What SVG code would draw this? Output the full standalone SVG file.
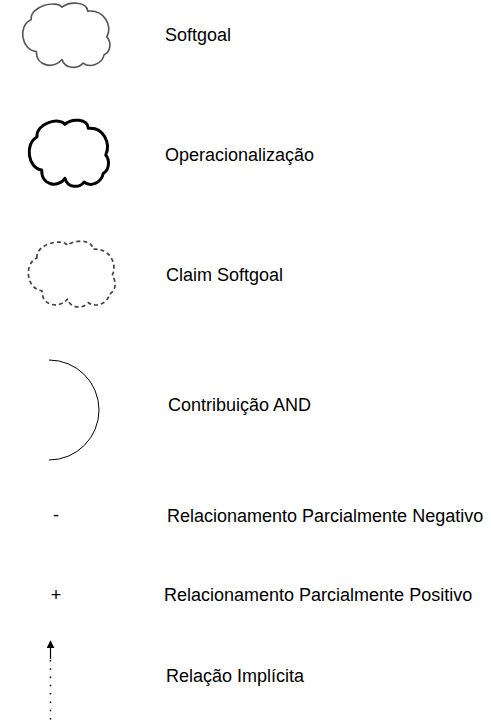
<svg xmlns="http://www.w3.org/2000/svg" width="491" height="723" viewBox="0 0 491 723">
<style>
  .lbl { font-family: "Liberation Sans", Arial, sans-serif; font-size: 18px; fill: #000; }
  .sym { font-family: "Liberation Sans", Arial, sans-serif; font-size: 18px; fill: #000; text-anchor: middle; }
  .cloud { fill: #fff; stroke-linejoin: round; }
</style>
<defs>
  <marker id="arr" viewBox="0 0 10 10" refX="9" refY="5" markerWidth="8" markerHeight="8" markerUnits="userSpaceOnUse" orient="auto">
    <path d="M0,0 L10,5 L0,10 Z" fill="#000"/>
  </marker>
</defs>
<rect width="491" height="723" fill="#fff"/>

<g id="softgoal">
  <path class="cloud" stroke="#555" stroke-width="1.6" d="M31.2,19.5 C29.8,6.25 56.2,-0.25 62,7.2 C69.4,1.05 87,1.7 87.7,11.1 C104.6,9.5 112.5,25.75 106.8,36.9 C111.6,42 110.8,51.75 104.2,54.7 C102,64.75 89.6,68 83,63.1 C78.2,69.3 65,69.3 62,59.6 C54.4,69.3 36,66.7 36.4,51.5 C21,49.8 17.5,25.75 31.2,19.5 Z"/>
  <text class="lbl" x="165" y="41">Softgoal</text>
</g>

<g id="operacionalizacao">
  <path class="cloud" stroke="#000" stroke-width="3" d="M37,137 C35.7,123.35 59.7,116.65 65,124.3 C71.7,118 87.7,118.7 88.3,128.3 C103.7,126.7 110.9,143.5 105.7,155 C110.1,160.2 109.3,170.25 103.3,173.3 C101.3,183.65 90.1,187 84,182 C79.7,188.3 67.7,188.3 65,178.3 C58.1,188.3 41.3,185.7 41.7,170 C27.7,168.2 24.5,143.5 37,137 Z"/>
  <text class="lbl" x="165" y="160.5">Operacionalização</text>
</g>

<g id="claim-softgoal">
  <path class="cloud" stroke="#444" stroke-width="1.7" stroke-dasharray="4 3" d="M36.9,257.9 C35.5,244.3 61.7,237.7 67.5,245.3 C74.9,239 92.4,239.7 93.1,249.3 C109.9,247.7 117.8,264.3 112.1,275.8 C116.9,281 116,291 109.5,294.1 C107.3,304.4 95,307.7 88.4,302.7 C83.6,309 70.5,309 67.5,299 C60,309 41.6,306.4 42,290.8 C26.7,289 23.2,264.3 36.9,257.9 Z"/>
  <text class="lbl" x="166" y="281">Claim Softgoal</text>
</g>

<g id="contribuicao-and">
  <path d="M49,360 A50,50 0 0 1 49,460" fill="none" stroke="#000" stroke-width="1"/>
  <text class="lbl" x="168" y="411">Contribuição AND</text>
</g>

<g id="parcialmente-negativo">
  <text class="sym" x="56" y="521">-</text>
  <text class="lbl" x="167" y="521.5">Relacionamento Parcialmente Negativo</text>
</g>

<g id="parcialmente-positivo">
  <text class="sym" x="56" y="601">+</text>
  <text class="lbl" x="164" y="601">Relacionamento Parcialmente Positivo</text>
</g>

<g id="relacao-implicita">
  <text class="lbl" x="166" y="681.5">Relação Implícita</text>
</g>

<g id="connectors">
  <line x1="50.5" y1="719.5" x2="50.5" y2="659" stroke="#000" stroke-width="1.5" stroke-dasharray="1.5 6.8"/>
  <line x1="50.5" y1="659" x2="50.5" y2="641" stroke="#000" stroke-width="1.2" marker-end="url(#arr)"/>
</g>
</svg>
